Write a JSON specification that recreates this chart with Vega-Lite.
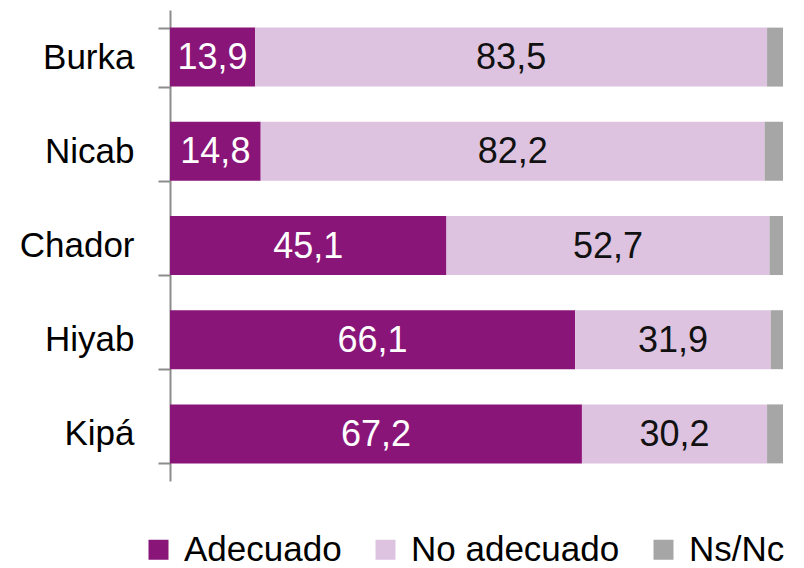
{
  "$schema": "https://vega.github.io/schema/vega-lite/v6.json",
  "width": 613,
  "height": 471,
  "autosize": {"type": "none"},
  "padding": {"left": 170, "top": 10, "right": 21, "bottom": 87},
  "background": "white",
  "config": {
    "view": {"stroke": null},
    "font": "Liberation Sans",
    "locale": {"number": {"decimal": ",", "thousands": ".", "grouping": [3], "currency": ["", " €"]}}
  },
  "data": {
    "values": [
      {"prenda": "Burka", "respuesta": "Adecuado", "orden": 1, "valor": 13.9},
      {"prenda": "Burka", "respuesta": "No adecuado", "orden": 2, "valor": 83.5},
      {"prenda": "Burka", "respuesta": "Ns/Nc", "orden": 3, "valor": 2.6},
      {"prenda": "Nicab", "respuesta": "Adecuado", "orden": 1, "valor": 14.8},
      {"prenda": "Nicab", "respuesta": "No adecuado", "orden": 2, "valor": 82.2},
      {"prenda": "Nicab", "respuesta": "Ns/Nc", "orden": 3, "valor": 3.0},
      {"prenda": "Chador", "respuesta": "Adecuado", "orden": 1, "valor": 45.1},
      {"prenda": "Chador", "respuesta": "No adecuado", "orden": 2, "valor": 52.7},
      {"prenda": "Chador", "respuesta": "Ns/Nc", "orden": 3, "valor": 2.2},
      {"prenda": "Hiyab", "respuesta": "Adecuado", "orden": 1, "valor": 66.1},
      {"prenda": "Hiyab", "respuesta": "No adecuado", "orden": 2, "valor": 31.9},
      {"prenda": "Hiyab", "respuesta": "Ns/Nc", "orden": 3, "valor": 2.0},
      {"prenda": "Kipá", "respuesta": "Adecuado", "orden": 1, "valor": 67.2},
      {"prenda": "Kipá", "respuesta": "No adecuado", "orden": 2, "valor": 30.2},
      {"prenda": "Kipá", "respuesta": "Ns/Nc", "orden": 3, "valor": 2.6}
    ]
  },
  "transform": [
    {"stack": "valor", "groupby": ["prenda"], "sort": [{"field": "orden", "order": "ascending"}], "as": ["x0", "x1"]}
  ],
  "encoding": {
    "y": {
      "field": "prenda",
      "type": "nominal",
      "sort": ["Burka", "Nicab", "Chador", "Hiyab", "Kipá"],
      "scale": {"paddingInner": 0.374, "paddingOuter": 0.187},
      "axis": {
        "title": null,
        "tickBand": "extent",
        "domainColor": "#8c8c8c",
        "domainWidth": 2,
        "tickColor": "#8c8c8c",
        "tickWidth": 2,
        "tickSize": 12,
        "labelPadding": 24,
        "labelFontSize": 35,
        "labelColor": "#000000",
        "labelFont": "Liberation Sans"
      }
    }
  },
  "layer": [
    {
      "mark": {"type": "bar"},
      "encoding": {
        "x": {"field": "x0", "type": "quantitative", "scale": {"domain": [0, 100], "nice": false}, "axis": null},
        "x2": {"field": "x1"},
        "color": {
          "field": "respuesta",
          "type": "nominal",
          "scale": {"domain": ["Adecuado", "No adecuado", "Ns/Nc"], "range": ["#8a1579", "#ddc3e0", "#a6a6a6"]},
          "legend": {
            "title": null,
            "orient": "none",
            "direction": "horizontal",
            "legendX": -29,
            "legendY": 522,
            "symbolType": "square",
            "symbolSize": 400,
            "symbolStrokeWidth": 0,
            "symbolOpacity": 1,
            "labelFontSize": 35,
            "labelLimit": 400,
            "labelColor": "#000000",
            "labelFont": "Liberation Sans",
            "labelOffset": 8,
            "columnPadding": 26
          }
        }
      }
    },
    {
      "transform": [
        {"filter": "datum.respuesta !== 'Ns/Nc'"},
        {"calculate": "(datum.x0 + datum.x1) / 2", "as": "xmid"}
      ],
      "mark": {"type": "text", "fontSize": 36, "font": "Liberation Sans", "baseline": "middle", "align": "center", "dy": 1},
      "encoding": {
        "x": {"field": "xmid", "type": "quantitative"},
        "text": {"field": "valor", "type": "quantitative", "format": ".1f"},
        "color": {
          "condition": {"test": "datum.respuesta === 'Adecuado'", "value": "#ffffff"},
          "value": "#111111"
        }
      }
    }
  ]
}
